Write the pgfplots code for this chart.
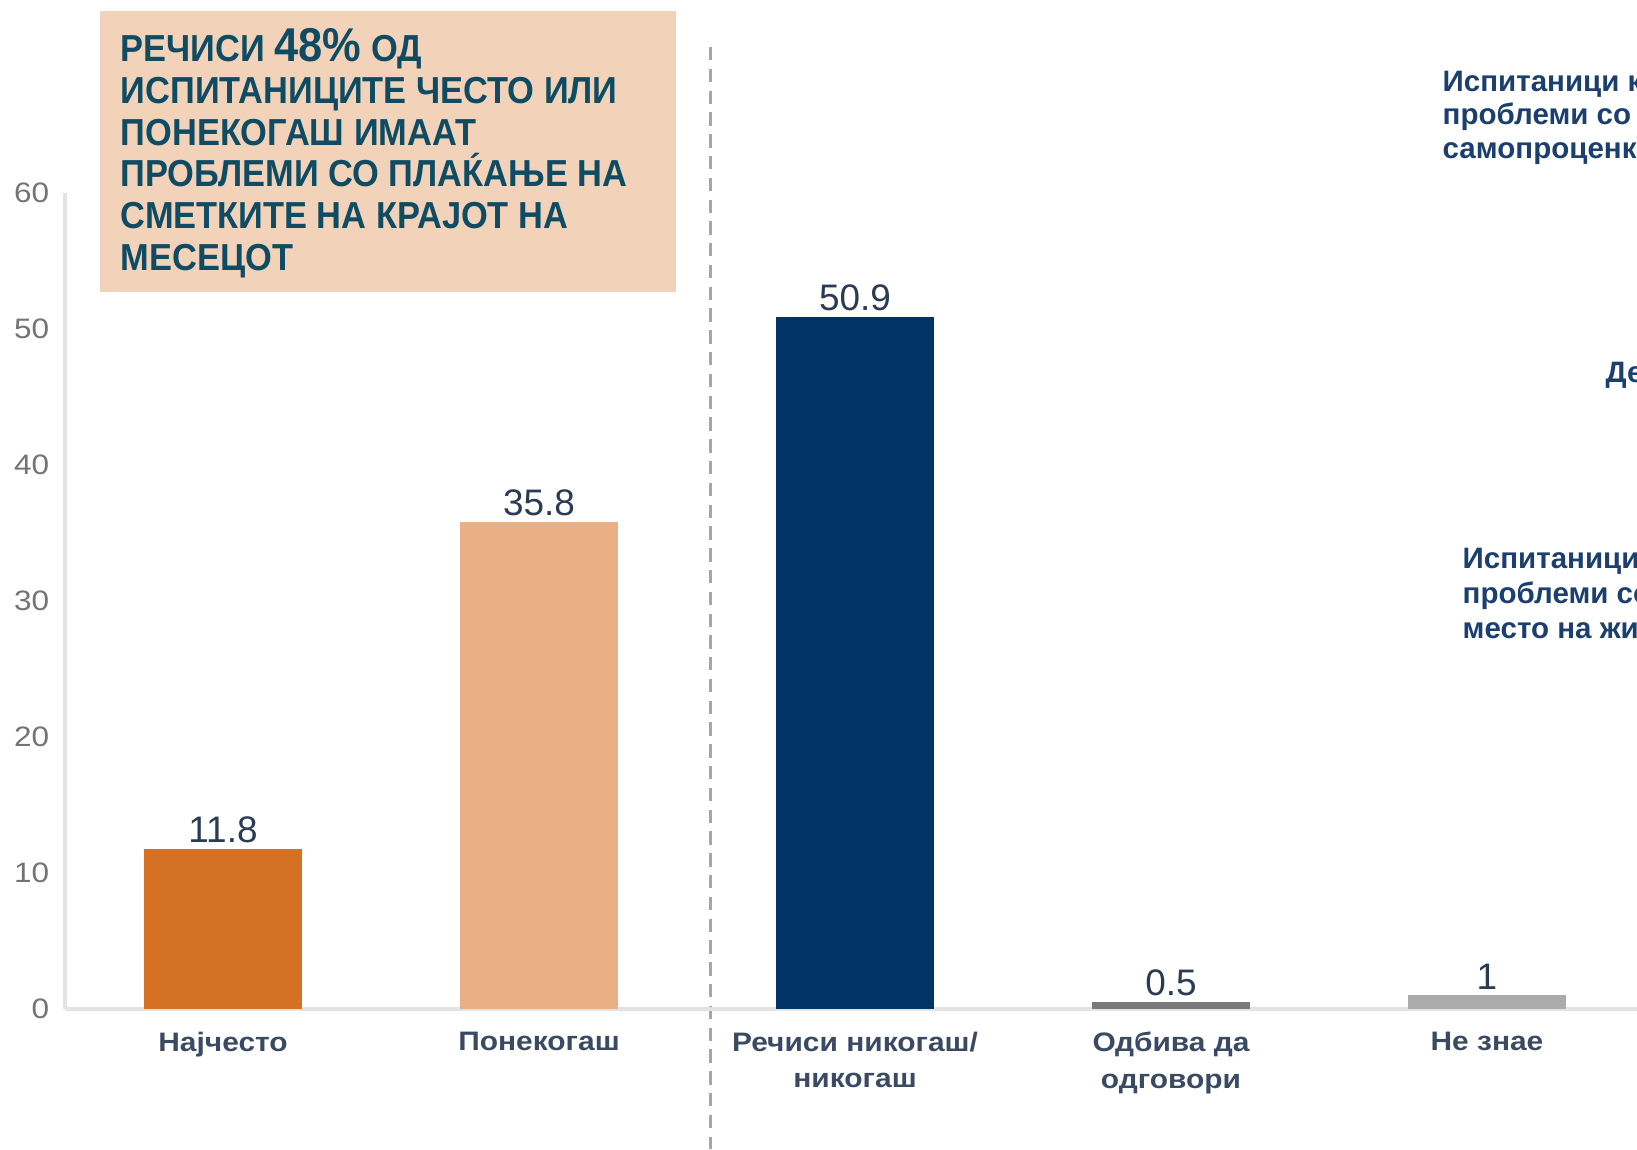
\documentclass[border=0pt]{standalone}
\usepackage{fontspec}
\setmainfont{Liberation Sans}
\newfontfamily\narrowfont[FakeStretch=0.915]{Liberation Sans}
\newfontfamily\widefont[FakeStretch=1.12]{Liberation Sans}
\usepackage{pgfplots}
\pgfplotsset{compat=1.18}

\definecolor{cOrange}{HTML}{D47124}
\definecolor{cPeach}{HTML}{E8B084}
\definecolor{cNavy}{HTML}{003466}
\definecolor{cGrayD}{HTML}{7A7A7A}
\definecolor{cGrayL}{HTML}{ABABAB}
\definecolor{boxFill}{HTML}{F2D3BA}
\definecolor{boxText}{HTML}{0F4C63}
\definecolor{sideText}{HTML}{1B3F6E}
\definecolor{lblText}{HTML}{2A3B52}
\definecolor{tickText}{HTML}{3A4A62}

\begin{document}
\begin{tikzpicture}
\useasboundingbox (0,0) rectangle (16.37,11.49);
\clip (0,0) rectangle (16.37,11.49);

% callout box
\fill[boxFill] (1.00,11.38) rectangle (6.76,8.57);
\begin{scope}[every node/.style={anchor=base west, inner sep=0pt, text=boxText,
    font=\narrowfont\bfseries\fontsize{10.7}{12}\selectfont}]
\node at (1.20,10.87) {РЕЧИСИ {\fontsize{13.5}{14}\selectfont 48\%} ОД};
\node at (1.20,10.45) {ИСПИТАНИЦИТЕ ЧЕСТО ИЛИ};
\node at (1.20,10.03) {ПОНЕКОГАШ ИМААТ};
\node at (1.20,9.62) {ПРОБЛЕМИ СО ПЛАЌАЊЕ НА};
\node at (1.20,9.20) {СМЕТКИТЕ НА КРАЈОТ НА};
\node at (1.20,8.78) {МЕСЕЦОТ};
\end{scope}

% separator
\draw[gray!70, line width=0.85pt, dash pattern=on 3.8pt off 2.4pt] (7.10,11.02) -- (7.10,0);

% texts cut off at the right edge, as in the source
\begin{scope}[every node/.style={anchor=base west, inner sep=0pt, text=sideText,
    font=\bfseries\fontsize{8.4}{9}\selectfont}]
\node at (14.42,10.57) {Испитаници кои};
\node at (14.42,10.24) {проблеми со ст};
\node at (14.42,9.90) {самопроценка};
\node at (16.05,7.66) {Де};
\node at (14.62,5.80) {Испитаници ко};
\node at (14.62,5.45) {проблеми со ст};
\node at (14.62,5.10) {место на жив};
\end{scope}

\begin{axis}[
    at={(0.65cm,1.40cm)}, anchor=south west,
    width=15.80cm, height=8.16cm, scale only axis,
    xmin=-0.5, xmax=4.5, ymin=0, ymax=60,
    clip=false,
    axis x line*=bottom, axis y line*=left,
    axis line style={draw=gray!22, line width=1.2pt, -},
    major tick length=0pt,
    ytick={0,10,...,60},
    xtick={0,1,2,3,4},
    xticklabels={Најчесто, Понекогаш, {Речиси никогаш/\\никогаш}, {Одбива да\\одговори}, Не знае},
    xticklabel style={align=center, text=tickText, yshift=-3pt,
        font=\widefont\bfseries\fontsize{7.6}{10.4}\selectfont},
    yticklabel style={text=gray!90!black, xshift=-1pt,
        font=\widefont\fontsize{8}{9}\selectfont},
    /pgf/number format/assume math mode=true,
    ybar, bar width=1.58cm,
    every axis plot/.append style={draw=none, bar shift=0pt},
    nodes near coords,
    nodes near coords style={text=lblText, anchor=south, inner sep=1.5pt,
        font=\fontsize{10.5}{12}\selectfont},
]
\addplot[fill=cOrange] coordinates {(0,11.8)};
\addplot[fill=cPeach] coordinates {(1,35.8)};
\addplot[fill=cNavy] coordinates {(2,50.9)};
\addplot[fill=cGrayD] coordinates {(3,0.5)};
\addplot[fill=cGrayL] coordinates {(4,1)};
\end{axis}
\end{tikzpicture}
\end{document}
